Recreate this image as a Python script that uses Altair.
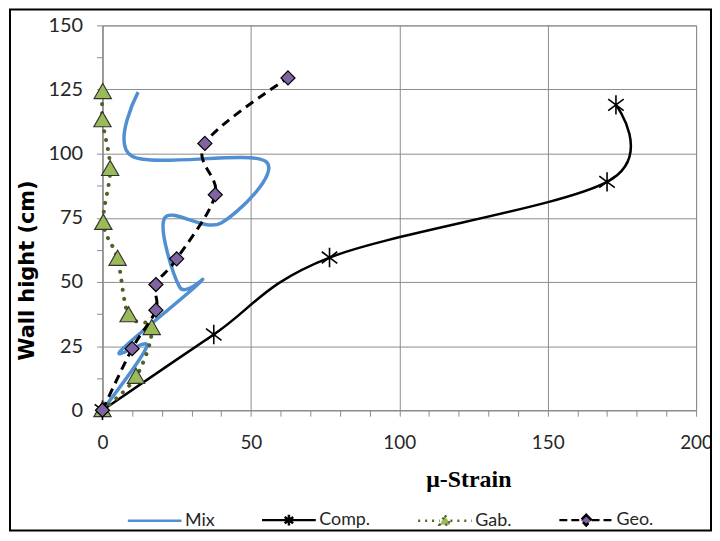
import altair as alt
import pandas as pd

series_names = ["Mix", "Comp.", "Gab.", "Geo."]

mix_x = [0, 15, 6, 33, 26, 21, 40, 55, 10, 12]
mix_y = [0, 25, 23, 50, 48, 75, 73, 97, 99, 124]

comp_x = [0, 37.5, 76.5, 170, 173]
comp_y = [0, 29.5, 59.5, 89, 119]

gab_x = [0, 11.3, 16.6, 8.8, 5.1, 0.3, 2.6, 0, 0.1]
gab_y = [0, 13, 32, 37, 59, 73, 94, 113, 124]

geo_x = [0, 10, 18, 18, 25, 38, 34.5, 62.5]
geo_y = [0, 24, 39, 49, 59, 84, 104, 129.5]

x_ticks = list(range(0, 201, 10))
y_ticks = [i * 12.5 for i in range(13)]

rows = []
for name, xs, ys in [("Mix", mix_x, mix_y), ("Comp.", comp_x, comp_y),
                     ("Gab.", gab_x, gab_y), ("Geo.", geo_x, geo_y)]:
    for i, (a, b) in enumerate(zip(xs, ys)):
        rows.append({"series": name, "strain": a, "height": b, "idx": i})
df = pd.DataFrame(rows)

GRID = "#8c8c8c"
LABEL_FONT = "Lato"

X = alt.X(
    "strain:Q",
    scale=alt.Scale(domain=[0, 200], nice=False, zero=False),
    axis=alt.Axis(
        values=x_ticks,
        labelExpr="datum.value % 50 == 0 ? datum.label : ''",
        gridColor={"condition": {"test": "datum.value % 50 == 0", "value": GRID}, "value": "transparent"},
        gridWidth=1,
        title="μ-Strain",
        titleFont="Liberation Serif",
        titleFontWeight="bold",
        titleFontSize=24,
        titleColor="black",
        titleX=368,
        titleY=77,
        titleAlign="center",
        titleBaseline="alphabetic",
        labelFont=LABEL_FONT,
        labelFontSize=19,
        labelColor="#262626",
        labelPadding=18,
        labelFlush=False,
        labelOverlap=False,
        tickSize=6,
        tickColor=GRID,
        domainColor=GRID,
    ),
)

Y = alt.Y(
    "height:Q",
    scale=alt.Scale(domain=[0, 150], nice=False, zero=False),
    axis=alt.Axis(
        values=y_ticks,
        labelExpr="datum.value % 25 == 0 ? datum.label : ''",
        gridColor={"condition": {"test": "datum.value % 25 == 0", "value": GRID}, "value": "transparent"},
        gridWidth=1,
        title="Wall hight (cm)",
        titleFont="DejaVu Sans",
        titleFontWeight="bold",
        titleFontSize=21,
        titleColor="black",
        titleAngle=270,
        titleX=-75,
        titleY=246,
        titleAlign="center",
        titleBaseline="middle",
        labelFont=LABEL_FONT,
        labelFontSize=20,
        labelColor="#262626",
        labelPadding=14,
        labelFlush=False,
        labelOverlap=False,
        tickSize=6,
        tickColor=GRID,
        domainColor=GRID,
    ),
)

ORDER = alt.Order("idx:Q")

ASTERISK = "M-0.8,-0.6L0.8,0.6M-0.8,0.6L0.8,-0.6M0,-1L0,1"
TRIANGLE = "M0,-1L1,0.75L-1,0.75Z"
DIAMOND = "M0,-1L1,0L0,1L-1,0Z"


def sel(name):
    return alt.Chart(df).transform_filter(alt.datum.series == name)


mix_line = sel("Mix").mark_line(interpolate="cardinal", color="#4f8fd2", strokeWidth=3.5).encode(x=X, y=Y, order=ORDER)

comp_line = sel("Comp.").mark_line(interpolate="cardinal", color="black", strokeWidth=2.5).encode(x=X, y=Y, order=ORDER)
comp_pts = sel("Comp.").mark_point(shape=ASTERISK, size=380, stroke="black", strokeWidth=1.6, opacity=1).encode(x=X, y=Y)

gab_line = sel("Gab.").mark_line(interpolate="cardinal", color="#4f6228", strokeWidth=4,
                                 strokeDash=[0.1, 9], strokeCap="round").encode(x=X, y=Y, order=ORDER)
gab_pts = sel("Gab.").mark_point(shape=TRIANGLE, size=300, filled=True, fill="#9bbb59",
                                 stroke="#333333", strokeWidth=1.2, opacity=1).encode(x=X, y=Y)

geo_line = sel("Geo.").mark_line(interpolate="cardinal", color="black", strokeWidth=3,
                                 strokeDash=[9, 6]).encode(x=X, y=Y, order=ORDER)
geo_pts = sel("Geo.").mark_point(shape=DIAMOND, size=200, filled=True, fill="#8064a2",
                                 stroke="black", strokeWidth=1.2, opacity=1).encode(x=X, y=Y)

legend_paths = [
    "M-1,0L1,0",
    "M-1,0L1,0M-0.16,-0.12L0.16,0.12M-0.16,0.12L0.16,-0.12M0,-0.2L0,0.2",
    "M-1,0L-0.2,0M0.2,0L1,0M0,-0.2L0.2,0.15L-0.2,0.15Z",
    "M-1,0L-0.2,0M0.2,0L1,0M0,-0.2L0.2,0L0,0.2L-0.2,0Z",
]
legend_strokes = ["#4f8fd2", "black", "#4f6228", "black"]
legend_fills = ["transparent", "transparent", "#9bbb59", "#8064a2"]
legend_dashes = [[1, 0], [1, 0], [2, 5], [8, 4]]

legend_layer = alt.Chart(df).transform_filter("false").mark_point(opacity=1).encode(
    x=X,
    y=Y,
    shape=alt.Shape("series:N", scale=alt.Scale(domain=series_names, range=legend_paths), legend=alt.Legend(title=None)),
    stroke=alt.Stroke("series:N", scale=alt.Scale(domain=series_names, range=legend_strokes), legend=alt.Legend(title=None)),
    fill=alt.Fill("series:N", scale=alt.Scale(domain=series_names, range=legend_fills), legend=alt.Legend(title=None)),
    strokeDash=alt.StrokeDash("series:N", scale=alt.Scale(domain=series_names, range=legend_dashes), legend=alt.Legend(title=None)),
)

frame = alt.Chart(pd.DataFrame({"k": [0]})).mark_rect(fill="transparent", stroke="black", strokeWidth=2).encode(
    x=alt.value(-93), x2=alt.value(612), y=alt.value(-16), y2=alt.value(508)
)

chart = alt.layer(
    frame,
    mix_line,
    comp_line, comp_pts,
    gab_line, gab_pts,
    geo_line, geo_pts,
    legend_layer,
).properties(
    width=597,
    height=387,
    padding={"left": 95, "top": 16, "right": 16, "bottom": 122},
    autosize=alt.AutoSizeParams(type="none"),
    background="white",
).configure_view(
    stroke=GRID, strokeWidth=1
).configure_legend(
    orient="none",
    legendX=24,
    legendY=469,
    direction="horizontal",
    columnPadding=42,
    labelFont=LABEL_FONT,
    labelFontSize=18,
    labelColor="#262626",
    labelOffset=2,
    symbolSize=2916,
    symbolStrokeWidth=2.5,
    padding=0,
)

chart.save("out.html", embed_options={"renderer": "svg", "actions": False})
